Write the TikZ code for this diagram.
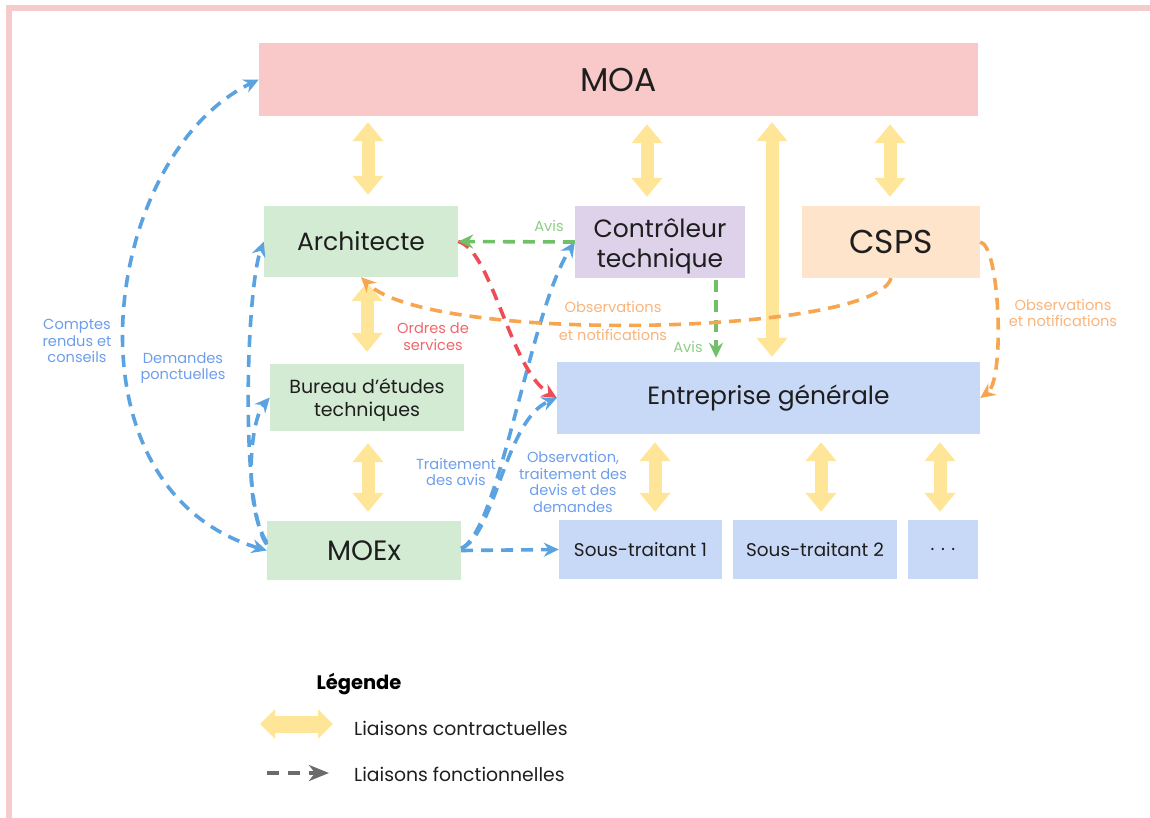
\documentclass[tikz,border=0pt]{standalone}
\usepackage{fontspec}
\setmainfont{Poppins}
\usetikzlibrary{arrows.meta,calc}

\definecolor{framepink}{HTML}{F4CCCC}
\definecolor{moafill}{HTML}{F9C9CA}
\definecolor{greenfill}{HTML}{D4EBD3}
\definecolor{purplefill}{HTML}{DDD2EA}
\definecolor{peachfill}{HTML}{FDE4CB}
\definecolor{bluefill}{HTML}{C8D9F7}
\definecolor{yel}{HTML}{FFE597}
\definecolor{bluedash}{HTML}{5AA2E0}
\definecolor{bluetxt}{HTML}{6D9EEB}
\definecolor{reddash}{HTML}{EE4C57}
\definecolor{redtxt}{HTML}{F0666B}
\definecolor{greendash}{HTML}{6FC066}
\definecolor{greentxt}{HTML}{8CCF85}
\definecolor{orangedash}{HTML}{F8A550}
\definecolor{orangetxt}{HTML}{F9B47C}
\definecolor{legray}{HTML}{6B6B6B}
\definecolor{ink}{HTML}{1E1E1E}

% two centred lines, lowered a little inside their box
\newcommand{\twolines}[3]{\raisebox{-#3}[\height][\depth]{\begin{tabular}{@{}c@{}}#1\\#2\end{tabular}}}

\begin{document}
\begin{tikzpicture}[x=1pt,y=-1pt,
  box/.style={inner sep=0pt, align=center, text=ink},
  big/.style={font=\fontsize{25}{30}\selectfont},
  mid/.style={font=\fontsize{19}{23}\selectfont},
  sub/.style={font=\fontsize{18.4}{22}\selectfont},
  lbl/.style={inner sep=0pt, align=center, font=\fontsize{14.6}{16.9}\selectfont},
  legtxt/.style={inner sep=0pt, anchor=west, text=ink, font=\fontsize{18.8}{22}\selectfont},
  contract/.style={draw=yel, line width=13pt,
    {Triangle[width=30pt,length=19pt]}-{Triangle[width=30pt,length=19pt]}},
  tipf/.tip={Stealth[length=15pt,width=14pt,inset=5pt]},
  fn/.style={line width=3.6pt, dash pattern=on 12pt off 8pt, -tipf},
  fnblue/.style={fn, draw=bluedash},
  fnred/.style={fn, draw=reddash},
  fngreen/.style={fn, draw=greendash},
  fnorange/.style={fn, draw=orangedash}]

\useasboundingbox (0,0) rectangle (1150,818);

% frame edges
\fill[framepink] (6,5) rectangle (1150,11);
\fill[framepink] (6,5) rectangle (12,818);

% boxes
\node[box, fill=moafill, minimum width=719pt, minimum height=73pt,
      font=\fontsize{33}{38}\selectfont] (moa) at (618.5,79.5) {MOA};
\node[box, big, fill=greenfill, minimum width=194pt, minimum height=71pt] (arch) at (361,241.5) {Architecte};
\node[box, big, fill=purplefill, minimum width=170pt, minimum height=72pt] (ctrl) at (660,242) {\twolines{Contrôleur}{technique}{4pt}};
\node[box, fill=peachfill, minimum width=178pt, minimum height=72pt,
      font=\fontsize{33}{38}\selectfont] (csps) at (891,242) {CSPS};
\node[box, mid, fill=greenfill, minimum width=194pt, minimum height=67pt] (bet) at (367,397.5) {\twolines{Bureau d’études}{techniques}{3pt}};
\node[box, big, fill=bluefill, minimum width=423pt, minimum height=72pt] (eg) at (768.5,398) {Entreprise générale};
\node[box, fill=greenfill, minimum width=194pt, minimum height=59pt,
      font=\fontsize{28}{32}\selectfont] (moex) at (364,550.5) {MOEx};
\node[box, sub, fill=bluefill, minimum width=163pt, minimum height=59pt] (st1) at (640.5,549.5) {Sous-traitant 1};
\node[box, sub, fill=bluefill, minimum width=164pt, minimum height=59pt] (st2) at (815,549.5) {Sous-traitant 2};
\node[box, sub, fill=bluefill, minimum width=70pt, minimum height=59pt] (st3) at (943,549.5) {. . .};

% contractual links
\draw[contract, shorten <=6pt, shorten >=11pt] ($(moa.south -| arch.north)+(7,0)$) -- ($(arch.north)+(7,0)$);
\draw[contract, shorten <=8pt, shorten >=9pt] ($(moa.south -| ctrl.north)+(-13,0)$) -- ($(ctrl.north)+(-13,0)$);
\draw[contract, shorten <=6pt, shorten >=5pt] ($(moa.south -| eg.north)+(3.5,0)$) -- ($(eg.north)+(3.5,0)$);
\draw[contract, shorten <=8pt, shorten >=9pt] ($(moa.south -| csps.north)+(-1,0)$) -- ($(csps.north)+(-1,0)$);
\draw[contract, shorten <=5pt, shorten >=12pt] (arch.south -| bet.north) -- (bet.north);
\draw[contract, shorten <=12pt, shorten >=9pt] ($(bet.south)+(1,0)$) -- ($(bet.south |- moex.north)+(1,0)$);
\draw[contract, shorten <=8pt, shorten >=8pt] ($(eg.south -| st1.north)+(14.5,0)$) -- ($(st1.north)+(14.5,0)$);
\draw[contract, shorten <=8pt, shorten >=8pt] ($(eg.south -| st2.north)+(6,0)$) -- ($(st2.north)+(6,0)$);
\draw[contract, shorten <=8pt, shorten >=8pt] ($(eg.south -| st3.north)+(-3,0)$) -- ($(st3.north)+(-3,0)$);

% functional links
\draw[fnblue, tipf-tipf] (moex.west) .. controls (57,488) and (101,156) .. (moa.west);
\draw[fnblue] ([yshift=6pt]moex.west) .. controls (240,510) and (246,290) .. (arch.west);
\draw[fnblue] ([yshift=8pt]moex.west) .. controls (243,505) and (250,420) .. (bet.west);
\draw[fnblue] ([yshift=2pt]moex.east) .. controls (500,530) and (530,310) .. (ctrl.west);
\draw[fnblue] ([yshift=2pt]moex.east) .. controls (495,535) and (505,420) .. (eg.west);
\draw[fnblue] (moex.east) -- (st1.west);
\draw[fnred] (arch.east) .. controls (492,250) and (510,370) .. (eg.west);
\draw[fngreen] (ctrl.west) -- (arch.east);
\draw[fngreen, shorten <=2pt, shorten >=4pt] ($(ctrl.south)+(56,0)$) -- ($(eg.north)+(-52.5,0)$);
\draw[fnorange] (csps.south) .. controls (875,335) and (430,345) .. (arch.south);
\draw[fnorange] (csps.east) .. controls (1000,245) and (1005,380) .. (eg.east);

% link labels
\node[lbl, text=bluetxt] (lcr) at (77,341) {Comptes\\rendus et\\conseils};
\node[lbl, text=bluetxt] (ldp) at (183,368) {Demandes\\ponctuelles};
\node[lbl, text=redtxt] (los) at (433,337) {Ordres de\\services};
\node[lbl, text=greentxt] (lav1) at (549,226) {Avis};
\node[lbl, text=greentxt] (lav2) at (688,347) {Avis};
\node[lbl, text=bluetxt] (lta) at (456,472) {Traitement\\des avis};
\node[lbl, text=bluetxt] (lobs) at (573,482) {Observation,\\traitement des\\devis et des\\demandes};
\node[lbl, text=orangetxt, font=\fontsize{14.6}{28}\selectfont] (lon1) at (613,321) {Observations\\et notifications};
\node[lbl, text=orangetxt] (lon2) at (1063,313) {Observations\\et notifications};

% legend
\node[inner sep=0pt, text=black, font=\bfseries\fontsize{19.5}{23}\selectfont] (leg) at (359,684) {Légende};
\coordinate (ka) at (260,724);
\coordinate (kb) at (333,724);
\draw[draw=yel, line width=17pt,
  {Triangle[width=29pt,length=15pt]}-{Triangle[width=29pt,length=15pt]}] (ka) -- (kb);
\node[legtxt] (lc) at (354,728) {Liaisons contractuelles};
\coordinate (fa) at (267,773);
\coordinate (fb) at (329,773);
\draw[line width=3.5pt, draw=legray, dash pattern=on 12pt off 9pt,
  -{Stealth[length=20pt,width=16pt,inset=6pt]}] (fa) -- (fb);
\node[legtxt] (lf) at (354,774) {Liaisons fonctionnelles};

\end{tikzpicture}
\end{document}
